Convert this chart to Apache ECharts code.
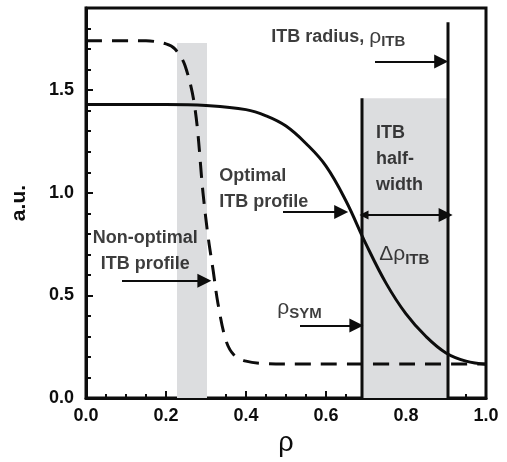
<!DOCTYPE html>
<html>
<head>
<meta charset="utf-8">
<script src="https://cdn.jsdelivr.net/npm/echarts@6/dist/echarts.min.js"></script>
<style>
  html, body { margin: 0; padding: 0; background: #fff; }
  #chart { width: 507px; height: 462px; }
</style>
</head>
<body>
<div id="chart"></div>
<script>
// optimal ITB profile (solid)
const optRho = [0, 0.1, 0.2, 0.3, 0.4, 0.45, 0.5, 0.55, 0.6, 0.65, 0.7, 0.75, 0.8, 0.85, 0.9, 0.95, 1.0]
const optVal = [1.43, 1.43, 1.43, 1.425, 1.405, 1.375, 1.325, 1.24, 1.13, 0.96, 0.75, 0.56, 0.41, 0.30, 0.22, 0.18, 0.165]
// non-optimal ITB profile (dashed)
const nonRho = [0, 0.1, 0.15, 0.2, 0.2225, 0.2475, 0.2725, 0.2925, 0.305, 0.318, 0.33, 0.35, 0.37, 0.4, 0.45, 0.5, 1.0]
const nonVal = [1.74, 1.74, 1.74, 1.725, 1.70, 1.62, 1.41, 1.0, 0.79, 0.62, 0.46, 0.28, 0.21, 0.18, 0.168, 0.166, 0.166]
// shaded bands [rho start, rho end, top]
const bands = [[0.2275, 0.3025, 1.73], [0.69, 0.905, 1.46]]
// vertical markers [rho, top]
const rhoSym = [0.69, 1.46]
const rhoItb = [0.905, 1.83]
// arrows [x1, x2, y]
const arrowsOne = [[0.7225, 0.888, 1.64], [0.4925, 0.638, 0.906], [0.09, 0.296, 0.572], [0.535, 0.676, 0.354]]
const arrowsTwo = [[0.695, 0.899, 0.892]]

const font = '"Liberation Sans", Arial, sans-serif'
const ink = '#0d0d0d'

const zip = (a, b) => a.map((v, i) => [v, b[i]])

const rich = {
  b: { fontFamily: font, fontWeight: 'bold', fontSize: 18, color: ink, lineHeight: 26 },
  r: { fontFamily: font, fontSize: 21, color: ink },
  s: { fontFamily: font, fontWeight: 'bold', fontSize: 15, color: ink, padding: [11, 0, 0, 0] }
}

// text notes [x, y, text, position]
const notes = [
  [0.463, 1.76, '{b|ITB radius, }{r|ρ}{s|ITB}', 'right'],
  [0.725, 1.165, '{b|ITB}\n{b|half-}\n{b|width}', 'right'],
  [0.733, 0.70, '{r|Δρ}{s|ITB}', 'right'],
  [0.333, 1.02, '{b|Optimal}\n{b|ITB profile}', 'right'],
  [0.148, 0.718, '{b|Non-optimal}\n{b|ITB profile}', 'inside'],
  [0.478, 0.436, '{r|ρ}{s|SYM}', 'right']
]

const chart = echarts.init(document.getElementById('chart'))

const series = [
  {
    type: 'line',
    data: [],
    silent: true,
    z: 1,
    markArea: {
      silent: true,
      itemStyle: { color: '#dcdddf' },
      data: bands.map(b => [{ coord: [b[0], 0] }, { coord: [b[1], b[2]] }])
    }
  },
  {
    type: 'line',
    data: zip(nonRho, nonVal),
    showSymbol: false,
    smooth: 0.35,
    z: 3,
    lineStyle: { color: ink, width: 3, type: [16, 10] }
  },
  {
    type: 'line',
    data: zip(optRho, optVal),
    showSymbol: false,
    smooth: 0.4,
    z: 4,
    lineStyle: { color: ink, width: 3 }
  },
  {
    type: 'line',
    data: [[rhoSym[0], 0], [rhoSym[0], rhoSym[1]]],
    showSymbol: false,
    z: 5,
    lineStyle: { color: ink, width: 3 }
  },
  {
    type: 'line',
    data: [[rhoItb[0], 0], [rhoItb[0], rhoItb[1]]],
    showSymbol: false,
    z: 5,
    lineStyle: { color: ink, width: 3 }
  },
  {
    type: 'lines',
    coordinateSystem: 'cartesian2d',
    symbol: ['none', 'triangle'],
    symbolSize: [9, 14],
    z: 6,
    lineStyle: { color: ink, width: 1.8, opacity: 1 },
    data: arrowsOne.map(a => ({ coords: [[a[0], a[2]], [a[1], a[2]]] }))
  },
  {
    type: 'lines',
    coordinateSystem: 'cartesian2d',
    symbol: ['triangle', 'triangle'],
    symbolSize: [9, 14],
    z: 6,
    lineStyle: { color: ink, width: 1.8, opacity: 1 },
    data: arrowsTwo.map(a => ({ coords: [[a[0], a[2]], [a[1], a[2]]] }))
  },
  {
    type: 'scatter',
    symbolSize: 0,
    z: 7,
    silent: true,
    data: notes.map(n => ({
      value: [n[0], n[1]],
      label: {
        show: true,
        position: n[3],
        distance: 0,
        align: n[3] === 'right' ? 'left' : 'center',
        verticalAlign: 'middle',
        formatter: n[2],
        rich: rich
      }
    }))
  }
]

chart.setOption({
  animation: false,
  backgroundColor: '#fff',
  grid: { left: 86, right: 21, top: 8, bottom: 62, show: true, borderColor: ink, borderWidth: 3 },
  xAxis: {
    type: 'value',
    min: 0,
    max: 1,
    interval: 0.2,
    name: 'ρ',
    nameLocation: 'middle',
    nameGap: 30,
    nameTextStyle: { fontFamily: font, fontSize: 27, color: ink },
    axisLine: { lineStyle: { color: ink, width: 3 } },
    axisTick: { inside: true, length: 7, lineStyle: { color: ink, width: 2 } },
    minorTick: { show: true, splitNumber: 4, length: 4, lineStyle: { color: ink, width: 2 } },
    splitLine: { show: false },
    axisLabel: { fontFamily: font, fontWeight: 'bold', fontSize: 18, color: ink, margin: 9, formatter: v => v.toFixed(1) }
  },
  yAxis: {
    type: 'value',
    min: 0,
    max: 1.9,
    interval: 0.5,
    name: 'a.u.',
    nameLocation: 'middle',
    nameGap: 56,
    nameTextStyle: { fontFamily: font, fontWeight: 'bold', fontSize: 21, color: ink },
    axisLine: { lineStyle: { color: ink, width: 3 } },
    axisTick: { inside: true, length: 7, lineStyle: { color: ink, width: 2 } },
    minorTick: { show: true, splitNumber: 5, length: 5, lineStyle: { color: ink, width: 2 } },
    splitLine: { show: false },
    axisLabel: {
      fontFamily: font, fontWeight: 'bold', fontSize: 18, color: ink, margin: 12,
      showMaxLabel: false,
      formatter: v => (Math.abs(v * 2 - Math.round(v * 2)) < 1e-6 ? v.toFixed(1) : '')
    }
  },
  series: series
})
</script>
</body>
</html>
